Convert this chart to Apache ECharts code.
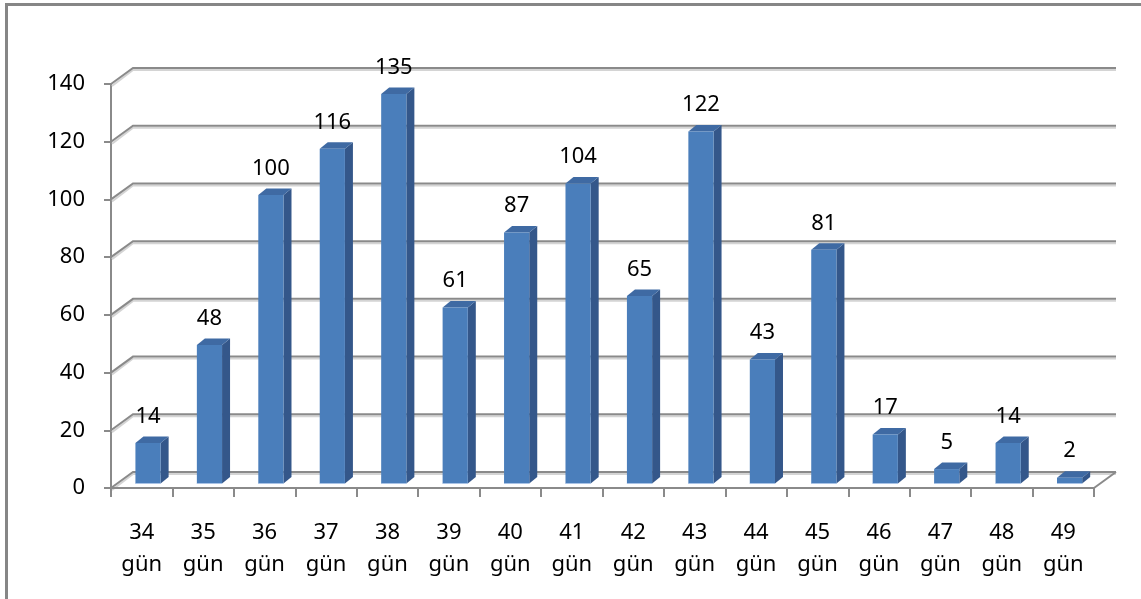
<!DOCTYPE html>
<html>
<head>
<meta charset="utf-8">
<script src="https://cdn.jsdelivr.net/npm/echarts@6/dist/echarts.min.js"></script>
<style>
  html, body { margin: 0; padding: 0; background: #fff; }
  #chart { width: 1141px; height: 599px; }
</style>
</head>
<body>
<div id="chart"></div>
<script>
// Gestation length distribution (days) — counts per day
const categories = ['34\ngün', '35\ngün', '36\ngün', '37\ngün', '38\ngün', '39\ngün', '40\ngün', '41\ngün',
                    '42\ngün', '43\ngün', '44\ngün', '45\ngün', '46\ngün', '47\ngün', '48\ngün', '49\ngün'];
const counts = [14, 48, 100, 116, 135, 61, 87, 104, 65, 122, 43, 81, 17, 5, 14, 2];
const yTicks = [0, 20, 40, 60, 80, 100, 120, 140];

// pseudo-3D geometry (pixels)
const WALL_DX = 22, WALL_DY = -16;     // depth of floor / back wall
const BAR_SX = 6.3, BAR_SY = -4.5;     // bar placement inside the depth
const BAR_DX = 8, BAR_DY = -6.5;       // bar depth
const GRID_COLOR = '#8a8a8a';
const FONT = 'Noto Sans';

const chart = echarts.init(document.getElementById('chart'), null, { renderer: 'canvas' });

function renderWall(params, api) {
  const cs = params.coordSys;
  const v = api.value(0);
  const y = api.coord([0, v])[1];
  const x0 = cs.x, x1 = cs.x + cs.width;
  const children = [];
  const lineStyle = { stroke: GRID_COLOR, lineWidth: 2, fill: null };
  const shadeStyle = { stroke: '#d4d4d4', lineWidth: 2, fill: null };
  // lighter under-line
  children.push({ type: 'polyline', shape: { points: [[x0 + 1, y + 2], [x0 + WALL_DX, y + WALL_DY + 2], [x1 + WALL_DX, y + WALL_DY + 2]] }, style: shadeStyle, silent: true });
  children.push({ type: 'polyline', shape: { points: [[x0, y], [x0 + WALL_DX, y + WALL_DY], [x1 + WALL_DX, y + WALL_DY]] }, style: lineStyle, silent: true });
  if (v === 0) {
    children.push({ type: 'line', shape: { x1: x1, y1: y, x2: x1 + WALL_DX, y2: y + WALL_DY }, style: lineStyle, silent: true });
  }
  return { type: 'group', children: children };
}

function renderBar(params, api) {
  const idx = api.value(0);
  const val = api.value(1);
  const top = api.coord([idx, val]);
  const base = api.coord([idx, 0]);
  const band = api.size([1, 0])[0];
  const w = band * 0.41;
  const xl = top[0] + BAR_SX - w / 2;
  const xr = xl + w;
  const yt = top[1] + BAR_SY;
  const yb = base[1] + BAR_SY;
  return {
    type: 'group',
    children: [
      { type: 'polygon', shape: { points: [[xr, yt], [xr + BAR_DX, yt + BAR_DY], [xr + BAR_DX, yb + BAR_DY], [xr, yb]] },
        style: { fill: '#34578a' } },
      { type: 'polygon', shape: { points: [[xl, yt], [xl + BAR_DX, yt + BAR_DY], [xr + BAR_DX, yt + BAR_DY], [xr, yt]] },
        style: { fill: '#3f6aa3' } },
      { type: 'rect', shape: { x: xl, y: yt, width: w, height: yb - yt },
        style: { fill: '#4a7ebb' } },
      { type: 'line', shape: { x1: xl, y1: yb, x2: xr, y2: yb }, style: { stroke: '#a9c3e6', lineWidth: 1 } },
      { type: 'text', x: xl + w / 2, y: yt - 26.5,
        style: { text: String(val), fill: '#000', font: '22px "' + FONT + '"', align: 'center', verticalAlign: 'middle' } }
    ]
  };
}

chart.setOption({
  animation: false,
  backgroundColor: '#fff',
  graphic: [{
    type: 'rect', z: 100, silent: true,
    shape: { x: 6.5, y: 4.5, width: 1300, height: 800 },
    style: { fill: 'none', stroke: '#868686', lineWidth: 3 }
  }],
  grid: { left: 111, right: 47, top: 84, bottom: 111, containLabel: false },
  xAxis: {
    type: 'category',
    data: categories,
    boundaryGap: true,
    axisLine: { show: true, lineStyle: { color: GRID_COLOR, width: 2 } },
    axisTick: { show: true, interval: 0, length: 9, lineStyle: { color: GRID_COLOR, width: 2 } },
    axisLabel: { interval: 0, margin: 29, color: '#000', fontFamily: FONT, fontSize: 22, lineHeight: 32 },
    z: 5
  },
  yAxis: {
    type: 'value',
    min: 0, max: 140, interval: 20,
    axisLine: { show: true, lineStyle: { color: GRID_COLOR, width: 2 } },
    axisTick: { show: true, length: 7, lineStyle: { color: GRID_COLOR, width: 2 } },
    axisLabel: { margin: 26, color: '#000', fontFamily: FONT, fontSize: 22 },
    splitLine: { show: false }
  },
  series: [
    {
      type: 'custom',
      renderItem: renderWall,
      data: yTicks.map(v => [v]),
      encode: { y: 0 },
      z: 1,
      silent: true
    },
    {
      type: 'custom',
      renderItem: renderBar,
      data: counts.map((v, i) => [i, v]),
      encode: { x: 0, y: 1 },
      z: 3
    }
  ]
});
</script>
</body>
</html>
